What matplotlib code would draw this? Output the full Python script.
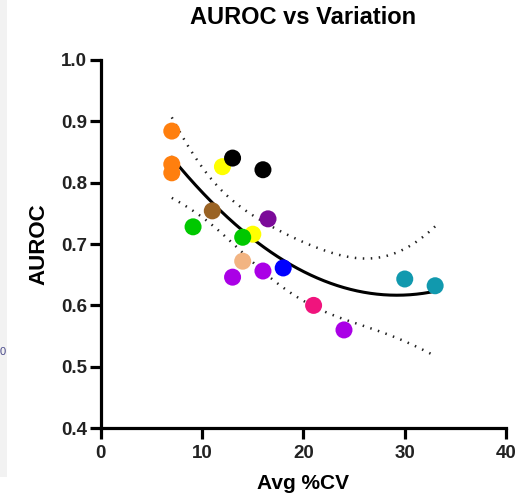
import numpy as np
import matplotlib
matplotlib.use("Agg")
import matplotlib.pyplot as plt
from matplotlib.patches import Rectangle

plt.rcParams['font.family'] = ['Liberation Sans', 'DejaVu Sans']
plt.rcParams['font.weight'] = 'bold'

cv = [7.0, 7.0, 7.0, 13.0, 12.0, 16.0, 11.0, 16.5, 9.1, 14.0, 15.0, 14.0, 13.0, 16.0, 18.0, 21.0, 24.0, 30.0, 33.0]
auroc = [0.884, 0.830, 0.816, 0.840, 0.826, 0.821, 0.754, 0.741, 0.728, 0.711, 0.716,
         0.672, 0.646, 0.656, 0.661, 0.600, 0.560, 0.643, 0.632]
colors = ['#FF7F0E', '#FF7F0E', '#FF7F0E', '#000000', '#FFFF00', '#000000', '#9A6324', '#7B0A99',
          '#00C800', '#00C800', '#FFFF00', '#F2B482', '#AA00E6', '#AA00E6', '#0000FF',
          '#F0147D', '#AA00E6', '#1199AE', '#1199AE']
# draw order so overlaps match (yellow over green at ~14-15)
order = [0, 1, 2, 4, 3, 5, 6, 7, 8, 10, 9, 11, 12, 13, 14, 15, 16, 17, 18]

x = np.array(cv)
y = np.array(auroc)
coef = np.polyfit(x, y, 2)
xs = np.linspace(x.min(), x.max(), 200)
ys = np.polyval(coef, xs)
# 95% confidence band of the fit
X = np.vstack([x**2, x, np.ones_like(x)]).T
resid = y - np.polyval(coef, x)
dof = len(x) - 3
s2 = np.sum(resid**2) / dof
cov = s2 * np.linalg.inv(X.T @ X)
Xs = np.vstack([xs**2, xs, np.ones_like(xs)]).T
se = np.sqrt(np.einsum('ij,jk,ik->i', Xs, cov, Xs))
tval = 2.12
upper = ys + tval * se
lower = ys - tval * se

fig = plt.figure(figsize=(5.31, 4.99), dpi=100)
fig.patches.append(Rectangle((0, 0.045), 0.013, 0.955, transform=fig.transFigure,
                             facecolor='#F2F2F2', edgecolor='none', zorder=0))
fig.text(0.0, 0.288, '0', fontsize=8, color='#4a4a8a', fontweight='normal')
ax = fig.add_axes([0.190, 0.142, 0.763, 0.738])

for i in order:
    ax.scatter(cv[i], auroc[i], s=150, color=colors[i], edgecolors='none', zorder=3)
ax.plot(xs, ys, color='black', lw=2.2, zorder=2)
ax.plot(xs, upper, color='#222222', lw=1.8, ls=(0, (0.6, 2.6)), zorder=2)
ax.plot(xs, lower, color='#222222', lw=1.8, ls=(0, (0.6, 2.6)), zorder=2)

ax.set_xlim(0, 40)
ax.set_ylim(0.4, 1.0)
ax.set_xticks([0, 10, 20, 30, 40])
ax.set_yticks([0.4, 0.5, 0.6, 0.7, 0.8, 0.9, 1.0])
ax.set_yticklabels(['0.4', '0.5', '0.6', '0.7', '0.8', '0.9', '1.0'])
for sp in ['top', 'right']:
    ax.spines[sp].set_visible(False)
for sp in ['left', 'bottom']:
    ax.spines[sp].set_linewidth(2.3)
ax.tick_params(width=2.3, length=8, labelsize=13.5, pad=2)
ax.tick_params(axis='x', pad=4)
for lab in ax.get_xticklabels() + ax.get_yticklabels():
    lab.set_fontweight('bold')
    lab.set_color('#222222')
ax.set_xlabel('Avg %CV', fontsize=15, fontweight='bold', labelpad=9)
ax.set_ylabel('AUROC', fontsize=16, fontweight='bold', labelpad=8)
fig.text(0.5716, 1 - 17 / 499, 'AUROC vs Variation', fontsize=17, fontweight='bold',
         ha='center', va='center')

fig.savefig('out.png', dpi=100)
